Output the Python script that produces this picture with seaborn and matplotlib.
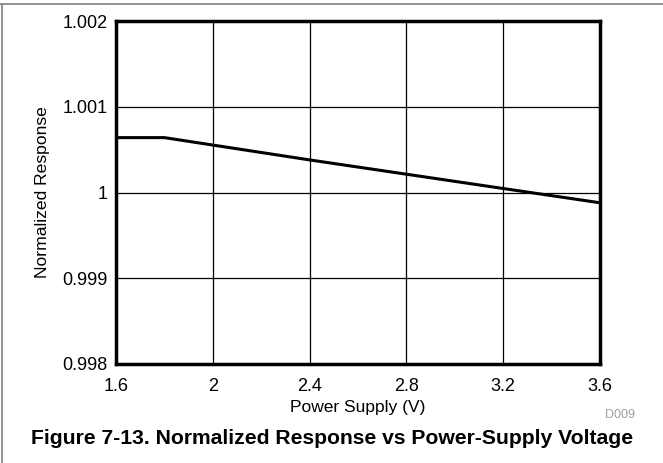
import matplotlib
matplotlib.use("Agg")
import matplotlib.pyplot as plt
import seaborn as sns
import pandas as pd
from matplotlib.lines import Line2D

# data
supply_v = [1.6, 1.8, 2.4, 3.0, 3.6]
norm_resp = [1.00064, 1.00064, 1.00038, 1.00013, 0.99988]
x_ticks = [1.6, 2.0, 2.4, 2.8, 3.2, 3.6]
x_labels = ["1.6", "2", "2.4", "2.8", "3.2", "3.6"]
y_ticks = [0.998, 0.999, 1.0, 1.001, 1.002]
y_labels = ["0.998", "0.999", "1", "1.001", "1.002"]

df = pd.DataFrame({"V": supply_v, "R": norm_resp})

sns.set_theme(style="white")
plt.rcParams["font.family"] = ["Liberation Sans", "DejaVu Sans"]

fig = plt.figure(figsize=(6.63, 4.63), dpi=100)
ax = fig.add_axes([116 / 663, 1 - 364 / 463, (600 - 116) / 663, (364 - 21) / 463])

sns.lineplot(data=df, x="V", y="R", ax=ax, color="black", linewidth=2.2)

ax.set_xlim(1.6, 3.6)
ax.set_ylim(0.998, 1.002)
ax.set_xticks(x_ticks)
ax.set_xticklabels(x_labels)
ax.set_yticks(y_ticks)
ax.set_yticklabels(y_labels)
ax.grid(True, color="black", linewidth=0.9)
ax.tick_params(axis="both", labelsize=13, colors="black", length=0)
ax.tick_params(axis="x", pad=10)
ax.tick_params(axis="y", pad=6)
for s in ax.spines.values():
    s.set_linewidth(2.5)
    s.set_color("black")
    s.set_zorder(5)

ax.set_xlabel("Power Supply (V)", fontsize=12.5, color="black", labelpad=3.5)
ax.set_ylabel("Normalized Response", fontsize=12.6, color="black", labelpad=9)

fig.text(635 / 663, 1 - 415 / 463, "D009", fontsize=9, color="#a0a0a0", ha="right", va="center")
fig.text(332 / 663, 1 - 438 / 463, "Figure 7-13. Normalized Response vs Power-Supply Voltage",
         fontsize=15.2, fontweight="bold", color="black", ha="center", va="center")

# page frame lines
fig.add_artist(Line2D([0, 1], [1 - 3.5 / 463, 1 - 3.5 / 463], transform=fig.transFigure, color="#808080", linewidth=1.2))
fig.add_artist(Line2D([2 / 663, 2 / 663], [0, 1 - 3.5 / 463], transform=fig.transFigure, color="#808080", linewidth=1.2))

fig.savefig("out.png", dpi=100, facecolor="white")
